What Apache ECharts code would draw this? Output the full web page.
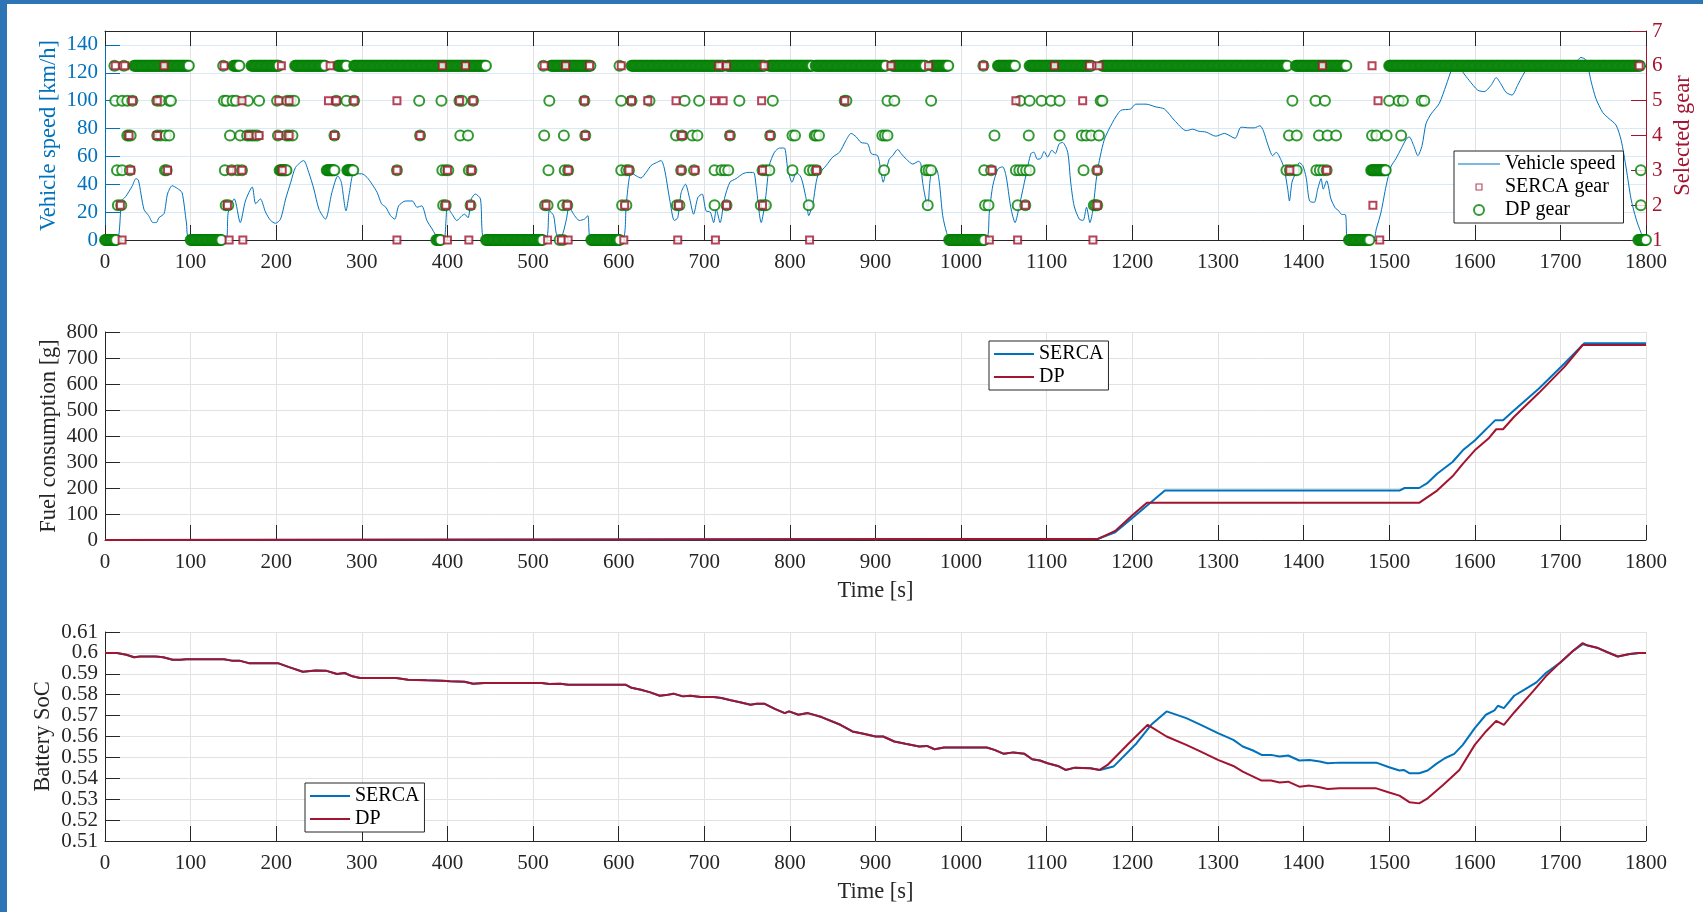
<!DOCTYPE html>
<html><head><meta charset="utf-8">
<script src="https://cdn.jsdelivr.net/npm/echarts@6/dist/echarts.min.js"></script>
<style>
html,body{margin:0;padding:0;background:#fff;}
#c{position:absolute;left:0;top:0;width:1703px;height:912px;}
.bt{position:absolute;left:0;top:0;width:1703px;height:4px;background:#2e75b6;}
.bl{position:absolute;left:0;top:0;width:7px;height:912px;background:#2e75b6;}
</style></head><body>
<div id="c"></div><div class="bt"></div><div class="bl"></div>
<script>
// ---------------- DATA ----------------
// Vehicle speed [time s, km/h]
const vehicleSpeed = [[0,0],[14,0],[19.5,28],[24,31],[32,39],[36,44],[39,43],[45.5,22],[51,17.5],[56,12.5],[60,12.5],[63,16],[69,19],[73,33],[78.5,39],[84.5,37],[90,34],[95,13],[99,0],[141,0],[144,20],[151,29.5],[158,12.5],[164,28],[172,38],[176,26],[181.5,29.5],[187.5,20],[193.5,14],[199,12],[205,15],[211,29.5],[217,41.5],[222.5,52],[232,57],[238,48.5],[244,36.5],[250,22],[257.5,15],[265,34],[272,46],[276,41.5],[281.5,21],[285.5,34],[290.5,47.5],[300,47.5],[306,45],[312,40],[318,34],[323,26],[328,23.5],[333.5,17.5],[338.5,15],[343,24.5],[351,28],[359,28],[364.5,23.5],[370,24.5],[376,14],[382,8],[390,0.5],[396,0],[400,23.5],[405.5,18.5],[411,14],[417,17.5],[420,18.5],[424,16],[428,29.5],[432.5,33],[438.5,29.5],[443.5,0],[514.5,0],[519,21],[524,17.5],[527,5],[531,0],[535,5],[539,15],[542,23.5],[548.5,17.5],[554,14],[560,15],[564,17.5],[568,0],[604,0],[609,27],[614.5,48.5],[620.5,46],[626,44.5],[632,48.5],[638,53.5],[644,55.5],[649.5,57],[653.5,51],[659.5,29.5],[665,14],[669,16],[673,34],[678,40],[683,29.5],[687.5,18.5],[692.5,30.5],[697.5,33],[702,21],[707,20],[711,12.5],[714,22],[718.5,12.5],[723.5,29.5],[730,41.5],[737,44],[745,47.5],[751,48.5],[757.5,48.5],[760.5,39],[766.5,12.5],[771.5,29.5],[776,53.5],[782,63],[788,66],[793.5,66],[797.5,51],[802.5,41.5],[807.5,48.5],[813,45],[819,29.5],[822,17.5],[827,27],[832.5,46],[842.5,53.5],[850,59.5],[858,63],[865.5,71.5],[871.5,76.5],[877.5,74],[883,70],[891,69],[895,62],[902.5,60.5],[906.5,48.5],[909,41.5],[912,48.5],[916,58],[920,60.5],[926,65],[930,62],[936,58],[943.5,54.5],[950.5,56.5],[953,54.5],[955,41.5],[961,23.5],[963.5,41.5],[966.5,51],[971,51],[974.5,41.5],[978.5,17.5],[983,5.5],[987,0],[1029,0],[1033,20],[1037,39],[1043,51],[1048.5,52.5],[1052.5,46],[1058,23.5],[1063,12.5],[1068,24.5],[1075.5,46],[1081.5,62],[1085,63],[1089,58],[1093,58.5],[1097,63.5],[1101,59.5],[1106,64.5],[1110,62],[1114.5,69],[1118.5,70],[1124.5,63],[1128,41.5],[1132,24.5],[1138,15],[1142.5,14],[1146.5,23.5],[1150.5,12.5],[1153.5,20],[1159,48.5],[1167,71.5],[1177,84.5],[1186.5,93],[1198,94],[1204,97.5],[1216,97.5],[1227.5,95.5],[1237.5,94],[1249,86],[1263,78.5],[1270.5,79.5],[1278,78],[1286,77.5],[1297.5,74.5],[1307.5,76.5],[1320,73],[1327,81],[1336.5,80.5],[1342.5,80.5],[1349,82],[1353,78.5],[1358,69],[1364,60.5],[1368,63],[1374,57],[1377.5,51],[1381.5,36.5],[1383.5,28],[1386.5,41.5],[1391,48.5],[1395,55.5],[1399,53.5],[1403,45],[1407,28],[1412.5,27],[1416.5,36.5],[1420.5,44],[1423,36.5],[1427,42.5],[1432,29.5],[1437,23],[1441,21],[1444,18.5],[1449,18],[1452,0],[1481,0],[1485,8],[1490.5,20],[1496.5,39],[1502,52.5],[1508,58.5],[1514,65.5],[1520,72.5],[1523.5,74],[1528.5,68],[1533.5,60.5],[1538.5,68],[1543,83.5],[1549,90.5],[1558.5,98],[1566.5,111],[1574,123.5],[1580,126],[1586,120.5],[1593.5,114.5],[1603.5,107.5],[1611,106.5],[1619,111],[1625,116.5],[1630.5,112],[1636.5,106],[1643.5,104],[1650,111],[1656,118],[1664,125.5],[1676,126.5],[1700,127],[1718,128],[1724,131],[1730,129],[1736,113.5],[1741.5,101.5],[1749.5,91.5],[1757,87],[1765,82.5],[1771,71.5],[1777,51],[1782.5,29.5],[1788.5,15],[1794,5.5],[1798,0],[1800,0]];

// DP gear: runs held at one gear, one sample per second [start s, end s, gear]
const dpGearRuns = [[0,13,1],[34,98,6],[100,136,1],[150,157,6],[171,203,6],[204,212,3],[222,257,6],[259,268,3],[272,282,6],[283,290,3],[291,445,6],[387,392,1],[445,511,1],[521,567,6],[568,601,1],[615,722,6],[727,770,6],[776,826,6],[830,912,6],[920,958,6],[966,985,6],[986,1027,1],[1043,1063,6],[1080,1152,6],[1165,1381,6],[1391,1450,6],[1453,1477,1],[1479,1496,3],[1500,1793,6],[1791,1800,1]];
// DP gear: isolated samples [s, gear]
const dpGearPoints = [[531,1],[535,1],
[15,2],[19,2],[141,2],[144,2],[395,2],[398,2],[427,2],[514,2],[517,2],[535,2],[540,2],[604,2],[609,2],[668,2],[671,2],[712,2],[726,2],[766,2],[770,2],[772,2],[822,2],[961,2],[1028,2],[1032,2],[1066,2],[1075,2],[1155,2],[1157,2],[1159,2],[1794,2],
[14,3],[20,3],[29,3],[70,3],[72,3],[140,3],[148,3],[155,3],[160,3],[341,3],[394,3],[398,3],[401,3],[425,3],[428,3],[518,3],[537,3],[541,3],[603,3],[609,3],[612,3],[673,3],[688,3],[712,3],[720,3],[724,3],[728,3],[768,3],[772,3],[776,3],[803,3],[823,3],[827,3],[831,3],[910,3],[959,3],[962,3],[965,3],[1027,3],[1035,3],[1064,3],[1068,3],[1072,3],[1076,3],[1080,3],[1143,3],[1159,3],[1380,3],[1384,3],[1389,3],[1392,3],[1415,3],[1419,3],[1423,3],[1427,3],[1794,3],
[26,4],[28,4],[30,4],[61,4],[65,4],[71,4],[75,4],[146,4],[158,4],[166,4],[169,4],[172,4],[175,4],[178,4],[202,4],[212,4],[215,4],[219,4],[268,4],[368,4],[415,4],[424,4],[513,4],[536,4],[561,4],[667,4],[674,4],[686,4],[692,4],[730,4],[777,4],[803,4],[806,4],[829,4],[831,4],[834,4],[908,4],[911,4],[914,4],[1039,4],[1079,4],[1115,4],[1141,4],[1146,4],[1152,4],[1161,4],[1383,4],[1392,4],[1418,4],[1428,4],[1438,4],[1480,4],[1485,4],[1497,4],[1514,4],
[12,5],[20,5],[26,5],[32,5],[61,5],[65,5],[75,5],[77,5],[139,5],[142,5],[149,5],[153,5],[167,5],[180,5],[201,5],[213,5],[217,5],[221,5],[270,5],[282,5],[291,5],[367,5],[393,5],[414,5],[417,5],[430,5],[519,5],[560,5],[603,5],[615,5],[636,5],[677,5],[694,5],[741,5],[780,5],[864,5],[866,5],[914,5],[922,5],[965,5],[1069,5],[1080,5],[1094,5],[1105,5],[1115,5],[1163,5],[1165,5],[1387,5],[1414,5],[1425,5],[1500,5],[1511,5],[1516,5],[1538,5],[1541,5],
[11,6],[22,6],[138,6],[512,6],[601,6],[1026,6]];
// SERCA gear samples visible in the figure [s, gear]
const sercaGear = [[12,6],[23,6],[69,6],[139,6],[206,6],[263,6],[394,6],[421,6],[513,6],[538,6],[566,6],[603,6],[717,6],[726,6],[770,6],[918,6],[962,6],[1026,6],[1109,6],[1150,6],[1161,6],[1422,6],[1480,6],[1792,6],
[32,5],[61,5],[160,5],[203,5],[215,5],[261,5],[270,5],[291,5],[341,5],[414,5],[430,5],[560,5],[615,5],[634,5],[667,5],[712,5],[722,5],[767,5],[864,5],[1064,5],[1142,5],[1487,5],
[28,4],[61,4],[168,4],[180,4],[203,4],[215,4],[268,4],[368,4],[561,4],[674,4],[730,4],[777,4],
[30,3],[73,3],[148,3],[160,3],[207,3],[341,3],[400,3],[428,3],[541,3],[612,3],[673,3],[689,3],[768,3],[831,3],[1036,3],[1159,3],[1384,3],[1427,3],
[18,2],[143,2],[398,2],[427,2],[515,2],[540,2],[607,2],[670,2],[726,2],[768,2],[1075,2],[1159,2],[1481,2],
[20,1],[145,1],[161,1],[341,1],[400,1],[425,1],[517,1],[533,1],[541,1],[606,1],[669,1],[713,1],[823,1],[1033,1],[1066,1],[1154,1],[1489,1]];

// Fuel consumption [s, g]
const fuelSerca = [[0,0],[300,1],[600,2],[770,3],[1000,4],[1160,5],[1180,30],[1200,85],[1218,135],[1238,190],[1512,190],[1518,200],[1535,200],[1545,220],[1556,255],[1574,300],[1586,345],[1600,383],[1616,435],[1624,461],[1633,461],[1646,499],[1675,583],[1705,680],[1728,757],[1800,757]];
const fuelDp = [[0,0],[300,1],[600,2],[770,3],[1000,4],[1160,4],[1180,35],[1200,95],[1217,143],[1535,143],[1556,190],[1574,245],[1586,293],[1600,345],[1616,390],[1625,426],[1633,426],[1646,474],[1675,566],[1705,667],[1726,750],[1800,750]];

// Battery SoC [s, SoC] – identical for both strategies up to 1162 s
const socShared = [[0,0.600],[14,0.600],[25,0.5991],[34,0.5979],[41,0.5983],[59,0.5983],[68,0.5979],[79,0.5967],[88,0.5967],[95,0.597],[139,0.597],[148,0.5963],[157,0.5963],[168,0.5951],[202,0.5951],[215,0.5932],[231,0.591],[246,0.5916],[258,0.5915],[271,0.5899],[280,0.5904],[289,0.5888],[298,0.588],[340,0.588],[354,0.5872],[376,0.5869],[394,0.5867],[403,0.5864],[420,0.5862],[430,0.5852],[443,0.5856],[510,0.5856],[519,0.5851],[532,0.5852],[541,0.5848],[608,0.5848],[615,0.5833],[626,0.5824],[637,0.5811],[648,0.5795],[655,0.5798],[664,0.5805],[675,0.5792],[684,0.5795],[696,0.5789],[711,0.5789],[720,0.5784],[731,0.5773],[743,0.5763],[754,0.5752],[761,0.5757],[770,0.5757],[783,0.5731],[794,0.5712],[799,0.572],[810,0.5704],[821,0.5712],[837,0.5693],[859,0.5656],[873,0.5624],[886,0.5613],[900,0.56],[909,0.56],[922,0.5576],[935,0.5565],[951,0.5552],[960,0.5555],[969,0.5539],[980,0.5547],[1030,0.5547],[1039,0.5536],[1050,0.5517],[1061,0.5524],[1074,0.5517],[1083,0.5491],[1092,0.5485],[1101,0.5472],[1113,0.5459],[1122,0.544],[1133,0.5451],[1151,0.5448],[1162,0.544]];
const socSercaTail = [[1178,0.5456],[1205,0.5568],[1222,0.5656],[1240,0.572],[1263,0.5688],[1280,0.5656],[1300,0.5616],[1318,0.5584],[1329,0.5552],[1341,0.5533],[1351,0.5512],[1362,0.5512],[1372,0.5504],[1382,0.5509],[1395,0.5485],[1407,0.5488],[1419,0.548],[1428,0.5472],[1442,0.5475],[1485,0.5475],[1500,0.5453],[1512,0.5437],[1517,0.544],[1524,0.5424],[1535,0.5424],[1545,0.5437],[1555,0.5469],[1565,0.5496],[1576,0.5517],[1586,0.556],[1600,0.564],[1613,0.5704],[1623,0.5725],[1627,0.5747],[1634,0.5736],[1646,0.5795],[1658,0.5824],[1672,0.5859],[1683,0.5904],[1699,0.5951],[1714,0.6007],[1726,0.6042],[1732,0.6035],[1744,0.6023],[1755,0.6003],[1767,0.5983],[1781,0.5995],[1792,0.600],[1800,0.600]];
const socDpTail = [[1171,0.5464],[1196,0.5568],[1218,0.5656],[1240,0.56],[1263,0.556],[1280,0.5528],[1300,0.5488],[1318,0.5459],[1329,0.5432],[1351,0.5389],[1362,0.5389],[1372,0.538],[1382,0.5384],[1395,0.536],[1407,0.5365],[1419,0.5357],[1428,0.5349],[1442,0.5352],[1485,0.5352],[1500,0.5332],[1512,0.5317],[1524,0.5285],[1535,0.528],[1545,0.5304],[1563,0.5368],[1582,0.544],[1600,0.556],[1613,0.5624],[1625,0.5675],[1634,0.5656],[1646,0.5715],[1668,0.5816],[1683,0.5888],[1699,0.5951],[1714,0.6007],[1726,0.6047],[1732,0.6035],[1744,0.6023],[1755,0.6003],[1767,0.5983],[1781,0.5995],[1792,0.600],[1800,0.600]];

// ---------------- CHART ----------------
const FONT = "'Liberation Serif','Times New Roman',serif";
const BLUE = '#0072BD', RED = '#A2142F', GREEN = '#008000', DARK = '#262626';
const GRIDC = '#e2e2e2', GRIDB = '#d9e9f5';

// decode the run-length gear record into its per-second samples
const dpGear = [];
dpGearRuns.forEach(r => { for (let t = r[0]; t <= r[1]; t++) dpGear.push([t, r[2]]); });
dpGearPoints.forEach(p => dpGear.push(p));

const plain = v => String(Math.round(v * 1000) / 1000);

const grids = [
  {left:105, top:31, width:1541, height:209},
  {left:105, top:332, width:1541, height:208},
  {left:105, top:632, width:1541, height:209}
];

function xAx(gi, extra) {
  return Object.assign({
    type:'value', gridIndex:gi, min:0, max:1800, interval:100, position:'bottom',
    axisLine:{show:true, onZero:false, lineStyle:{color:DARK, width:1}},
    axisTick:{show:true, inside:true, length:15, lineStyle:{color:DARK}},
    axisLabel:{color:DARK, fontSize:21, fontFamily:FONT, margin:12, formatter:plain},
    splitLine:{show:true, lineStyle:{color:GRIDC, width:1}}
  }, extra || {});
}
const nameStyle = (c) => ({color:c, fontSize:22.5, fontFamily:FONT});
const legendText = {fontFamily:FONT, fontSize:20, color:'#000', lineHeight:20};

const lineIcon42 = 'path://M0,0M42,10M0,4.4H42V5.6H0Z';
const lineIcon40 = 'path://M0,0M40,10M0,4H40V6H0Z';
const squareIcon = 'path://M-1.5,-1.5M8.5,8.5M0,0H7V7H0ZM1.1,1.1V5.9H5.9V1.1Z';

// rotated y-axis titles (placed as text, centred on each plot)
function yTitle(text, x, y, color) {
  return {type:'text', x:x, y:y, rotation:Math.PI/2, silent:true,
    style:{text:text, fill:color, font:'22.5px ' + FONT, align:'center', verticalAlign:'middle'}};
}

const option = {
  animation:false,
  backgroundColor:'#fff',
  textStyle:{fontFamily:FONT},
  grid:grids,
  graphic:[
    yTitle('Vehicle speed [km/h]', 49, 135.5, BLUE),
    yTitle('Selected gear', 1683, 135.5, RED),
    yTitle('Fuel consumption [g]', 49.5, 436, DARK),
    yTitle('Battery SoC', 43.5, 736.5, DARK)
  ],
  xAxis:[
    xAx(0),
    xAx(0, {position:'top', axisLabel:{show:false}, splitLine:{show:false}}),
    xAx(1, {name:'Time [s]', nameLocation:'middle', nameGap:40, nameTextStyle:nameStyle(DARK)}),
    xAx(2, {name:'Time [s]', nameLocation:'middle', nameGap:40, nameTextStyle:nameStyle(DARK)})
  ],
  yAxis:[
    {type:'value', gridIndex:0, position:'left', min:0, max:150, interval:20,
     axisLine:{show:true, onZero:false, lineStyle:{color:BLUE}},
     axisTick:{show:true, inside:true, length:15, lineStyle:{color:BLUE}},
     axisLabel:{color:BLUE, fontSize:21, fontFamily:FONT, margin:7, showMaxLabel:false, formatter:plain},
     splitLine:{show:true, lineStyle:{color:GRIDB}}},
    {type:'value', gridIndex:0, position:'right', min:1, max:7, interval:1,
     axisLine:{show:true, onZero:false, lineStyle:{color:RED}},
     axisTick:{show:true, inside:true, length:15, lineStyle:{color:RED}},
     axisLabel:{color:RED, fontSize:21, fontFamily:FONT, margin:6, formatter:plain},
     splitLine:{show:false}},
    {type:'value', gridIndex:1, min:0, max:800, interval:100,
     axisLine:{show:true, onZero:false, lineStyle:{color:DARK}},
     axisTick:{show:true, inside:true, length:15, lineStyle:{color:DARK}},
     axisLabel:{color:DARK, fontSize:21, fontFamily:FONT, margin:7, formatter:plain},
     splitLine:{show:true, lineStyle:{color:GRIDC}}},
    {type:'value', gridIndex:2, min:0.51, max:0.61, interval:0.01,
     axisLine:{show:true, onZero:false, lineStyle:{color:DARK}},
     axisTick:{show:true, inside:true, length:15, lineStyle:{color:DARK}},
     axisLabel:{color:DARK, fontSize:21, fontFamily:FONT, margin:7, formatter:plain},
     splitLine:{show:true, lineStyle:{color:GRIDC}}}
  ],
  legend:[
    {left:1454, top:151, orient:'vertical', itemWidth:42, itemHeight:10, itemGap:3,
     padding:[3,8,3,4], backgroundColor:'#fff', borderColor:DARK, borderWidth:1, selectedMode:false,
     textStyle:legendText,
     data:[{name:'Vehicle speed', icon:lineIcon42}, {name:'SERCA gear', icon:squareIcon}, {name:'DP gear'}]},
    {left:989, top:341, orient:'vertical', itemWidth:40, itemHeight:10, itemGap:3,
     padding:[3,5,3,5], backgroundColor:'#fff', borderColor:DARK, borderWidth:1, selectedMode:false,
     textStyle:legendText,
     data:[{name:'SERCA', icon:lineIcon40}, {name:'DP', icon:lineIcon40}]},
    {left:305, top:783, orient:'vertical', itemWidth:40, itemHeight:10, itemGap:3,
     padding:[3,5,3,5], backgroundColor:'#fff', borderColor:DARK, borderWidth:1, selectedMode:false,
     textStyle:legendText,
     data:[{name:'SERCA', icon:lineIcon40}, {name:'DP', icon:lineIcon40}]}
  ],
  series:[
    {type:'line', name:'Vehicle speed', xAxisIndex:0, yAxisIndex:0, data:vehicleSpeed,
     symbol:'none', smooth:0.25, lineStyle:{color:BLUE, width:1}, itemStyle:{color:BLUE}, z:2},
    {type:'scatter', name:'DP gear', xAxisIndex:0, yAxisIndex:1, data:dpGear,
     symbol:'emptyCircle', symbolSize:10, itemStyle:{color:GREEN, borderWidth:1.2}, z:3, large:false},
    {type:'scatter', name:'SERCA gear', xAxisIndex:0, yAxisIndex:1, data:sercaGear,
     symbol:'emptyRect', symbolSize:7, itemStyle:{color:RED, borderWidth:1.2}, z:4},
    {type:'line', name:'SERCA', xAxisIndex:2, yAxisIndex:2, data:fuelSerca,
     symbol:'none', lineStyle:{color:BLUE, width:2}, itemStyle:{color:BLUE}, z:2},
    {type:'line', name:'DP', xAxisIndex:2, yAxisIndex:2, data:fuelDp,
     symbol:'none', lineStyle:{color:RED, width:2}, itemStyle:{color:RED}, z:3},
    {type:'line', name:'SERCA', xAxisIndex:3, yAxisIndex:3, data:socShared.concat(socSercaTail),
     symbol:'none', lineStyle:{color:BLUE, width:2}, itemStyle:{color:BLUE}, z:2},
    {type:'line', name:'DP', xAxisIndex:3, yAxisIndex:3, data:socShared.concat(socDpTail),
     symbol:'none', lineStyle:{color:RED, width:2}, itemStyle:{color:RED}, z:3}
  ]
};
const chart = echarts.init(document.getElementById('c'), null, {renderer:'canvas'});
chart.setOption(option);
</script></body></html>
